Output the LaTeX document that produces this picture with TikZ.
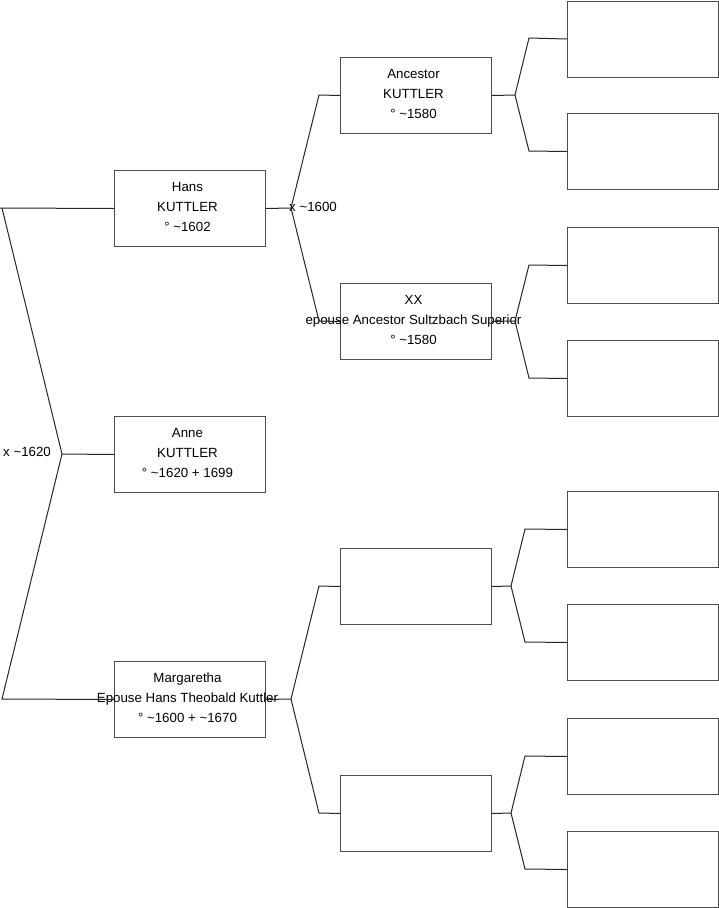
\documentclass[tikz,border=0pt]{standalone}
\usepackage{fontspec}
\setmainfont{Liberation Sans}
\begin{document}
\begin{tikzpicture}[x=1pt,y=-1pt,
  box/.style={draw=black!70, line width=1pt, minimum width=151pt, minimum height=76pt, inner sep=0pt, anchor=north west},
  txt/.style={align=center, font=\fontsize{13.3}{20}\selectfont, inner sep=0pt},
  conn/.style={draw=black!85, line width=1pt},
  lbl/.style={font=\fontsize{13.3}{15}\selectfont, inner sep=0pt, anchor=west}]
\useasboundingbox (0,0) rectangle (719,908);
% column 1
\node[box] (hans) at (114,170) {};
\node[box] (anne) at (114,416) {};
\node[box] (marg) at (114,661) {};
% column 2
\node[box] (anc) at (340,57) {};
\node[box] (xx) at (340,283) {};
\node[box] (e1) at (340,548) {};
\node[box] (e2) at (340,775) {};
% column 3
\node[box] (r1) at (567,0.5) {};
\node[box] (r2) at (567,113) {};
\node[box] (r3) at (567,227) {};
\node[box] (r4) at (567,340) {};
\node[box] (r5) at (567,491) {};
\node[box] (r6) at (567,604) {};
\node[box] (r7) at (567,718) {};
\node[box] (r8) at (567,831) {};
% texts
\node[txt] (thans) at ([xshift=-2.5pt,yshift=2pt]hans.center) {Hans\\KUTTLER\\° \textasciitilde1602};
\node[txt] (tanne) at ([xshift=-2.5pt,yshift=2pt]anne.center) {Anne\\KUTTLER\\° \textasciitilde1620 + 1699};
\node[txt] (tmarg) at ([xshift=-2.5pt,yshift=2pt]marg.center) {Margaretha\\Epouse Hans Theobald Kuttler\\° \textasciitilde1600 + \textasciitilde1670};
\node[txt] (tanc) at ([xshift=-2.5pt,yshift=2pt]anc.center) {Ancestor\\KUTTLER\\° \textasciitilde1580};
\node[txt] (txx) at ([xshift=-2.5pt,yshift=2pt]xx.center) {XX\\epouse Ancestor Sultzbach Superior\\° \textasciitilde1580};
% left bracket
\coordinate (Lt0) at (0,208);
\coordinate (Lt) at (2,208);
\coordinate (L) at (62,454);
\coordinate (Lb) at (2,699);
\draw[conn] (Lt0) -- (hans.west);
\draw[conn] (Lt) -- (L) -- (Lb) -- (marg.west);
\draw[conn] (L) -- (anne.west);
\node[lbl] (l1620) at (3,452) {x \textasciitilde1620};
% Hans -> parents
\coordinate (J1) at (291,208);
\coordinate (J1a) at (319,95);
\coordinate (J1b) at (319,321);
\draw[conn] (hans.east) -- (J1);
\draw[conn] (anc.west) -- (J1a) -- (J1) -- (J1b) -- (xx.west);
\node[lbl] (l1600) at (289,207) {x \textasciitilde1600};
% Margaretha -> parents
\coordinate (J6) at (291,699);
\coordinate (J6a) at (319,586);
\coordinate (J6b) at (319,813);
\draw[conn] (marg.east) -- (J6);
\draw[conn] (e1.west) -- (J6a) -- (J6) -- (J6b) -- (e2.west);
% column 2 -> column 3
\coordinate (J2) at (515,95);
\coordinate (J2a) at (529,38);
\coordinate (J2b) at (529,151);
\draw[conn] (anc.east) -- (J2);
\draw[conn] (r1.west) -- (J2a) -- (J2) -- (J2b) -- (r2.west);
\coordinate (J3) at (515,321);
\coordinate (J3a) at (529,265);
\coordinate (J3b) at (529,378);
\draw[conn] (xx.east) -- (J3);
\draw[conn] (r3.west) -- (J3a) -- (J3) -- (J3b) -- (r4.west);
\coordinate (J4) at (511,586);
\coordinate (J4a) at (525,529);
\coordinate (J4b) at (525,642);
\draw[conn] (e1.east) -- (J4);
\draw[conn] (r5.west) -- (J4a) -- (J4) -- (J4b) -- (r6.west);
\coordinate (J5) at (511,813);
\coordinate (J5a) at (525,756);
\coordinate (J5b) at (525,869);
\draw[conn] (e2.east) -- (J5);
\draw[conn] (r7.west) -- (J5a) -- (J5) -- (J5b) -- (r8.west);
\end{tikzpicture}
\end{document}
